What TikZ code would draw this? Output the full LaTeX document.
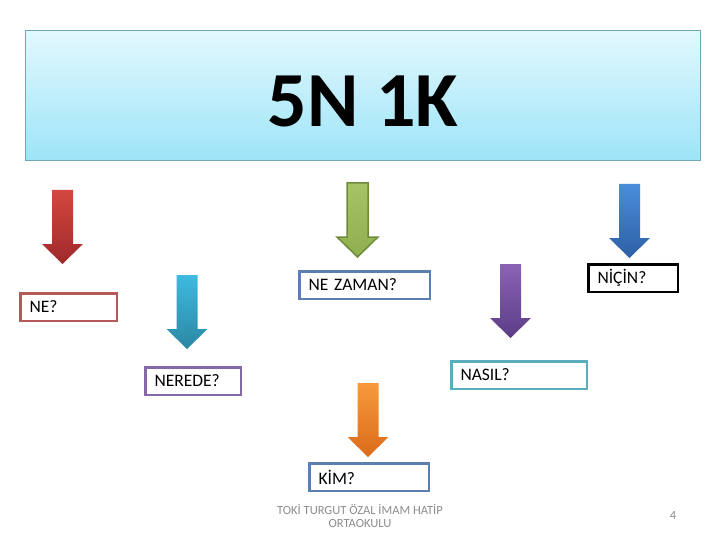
\documentclass[tikz,border=0pt]{standalone}
\usepackage{fontspec}
\setmainfont{Carlito}
\usepackage{tikz}
\usetikzlibrary{shadings}

\definecolor{titletop}{HTML}{E2F8FE}
\definecolor{titlebot}{HTML}{9DE4F8}
\definecolor{titleline}{HTML}{70A8B5}
\definecolor{redtop}{HTML}{D4473F}
\definecolor{redbot}{HTML}{9E2A2B}
\definecolor{tealtop}{HTML}{3DBBDF}
\definecolor{tealbot}{HTML}{2A87A3}
\definecolor{greentop}{HTML}{A5C463}
\definecolor{greenbot}{HTML}{8FAF4E}
\definecolor{greenline}{HTML}{6E8A3A}
\definecolor{bluetop}{HTML}{4A8DDB}
\definecolor{bluebot}{HTML}{2D5FA4}
\definecolor{purpletop}{HTML}{8A63B5}
\definecolor{purplebot}{HTML}{5B3C86}
\definecolor{orangetop}{HTML}{F89A3C}
\definecolor{orangebot}{HTML}{DA6A1A}
\definecolor{neline}{HTML}{B55A58}
\definecolor{zamanline}{HTML}{5B7FAF}
\definecolor{neredeline}{HTML}{8569A6}
\definecolor{nasilline}{HTML}{5BADBD}
\definecolor{footgray}{HTML}{8C8C8C}

\begin{document}
\begin{tikzpicture}[
    x=1pt, y=-1pt,
    qbox/.style={rectangle, draw, line width=2.5pt, fill=white, anchor=west, minimum height=27.5pt, inner xsep=9pt, inner ysep=0pt, align=left, font=\fontsize{17.5}{20}\selectfont},
    redarr/.style={top color=redtop, bottom color=redbot},
    tealarr/.style={top color=tealtop, bottom color=tealbot},
    greenarr/.style={top color=greentop, bottom color=greenbot, draw=greenline, line width=1.5pt},
    bluearr/.style={top color=bluetop, bottom color=bluebot},
    purplearr/.style={top color=purpletop, bottom color=purplebot},
    orangearr/.style={top color=orangetop, bottom color=orangebot},
    foot/.style={text=footgray, font=\fontsize{12.5}{13}\selectfont, align=center},
]
\useasboundingbox (0,0) rectangle (720,540);

% Title banner
\shade[top color=titletop, bottom color=titlebot, draw=titleline, line width=1pt] (25,31) rectangle (700,161);
\node (title) at (363,101) {\fontsize{78}{80}\selectfont\bfseries 5N 1K};

% Block arrows (center x / top y / look)
\foreach \cx/\ty/\look in {62.5/190/redarr, 187/275/tealarr, 357.5/183/greenarr,
                           629.5/184/bluearr, 510.5/264/purplearr, 368/383/orangearr}
  \shade[\look] (\cx-10.5,\ty) -- (\cx+10.5,\ty) -- (\cx+10.5,\ty+54) -- (\cx+20.5,\ty+54)
    -- (\cx,\ty+74) -- (\cx-20.5,\ty+54) -- (\cx-10.5,\ty+54) -- cycle;

% Question boxes
\node[qbox, draw=neline, text width=78.5pt] (ne) at (19.25,307) {NE?};
\node[qbox, draw=zamanline, text width=112.5pt] (nezaman) at (298.25,285) {NE ZAMAN?};
\node[qbox, draw=black, text width=71.5pt] (nicin) at (587.25,278) {NİÇİN?};
\node[qbox, draw=neredeline, text width=77.5pt] (nerede) at (144.25,381) {NEREDE?};
\node[qbox, draw=nasilline, text width=117.5pt] (nasil) at (450.25,375) {NASIL?};
\node[qbox, draw=zamanline, text width=101.5pt] (kim) at (308.25,477) {KİM?};

% Footer
\node[foot] (school) at (360,516) {TOKİ TURGUT ÖZAL İMAM HATİP\\ORTAOKULU};
\node[foot] (pagenum) at (673,515) {4};

\end{tikzpicture}
\end{document}
